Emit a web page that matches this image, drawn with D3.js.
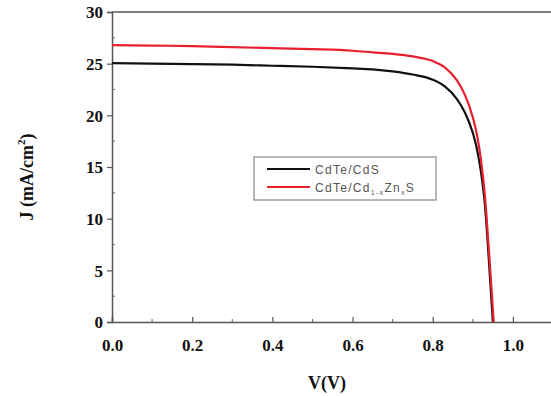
<!DOCTYPE html>
<html>
<head>
<meta charset="utf-8">
<script src="https://cdn.jsdelivr.net/npm/d3@7"></script>
<style>
    body { margin: 0; background: #fff; }
    svg { display: block; }
</style>
</head>
<body>
<div id="chart"></div>
<script>

// Data

const voltage = [0, 0.1, 0.2, 0.3, 0.4, 0.5, 0.6, 0.65, 0.7, 0.75, 0.8, 0.83, 0.86, 0.88, 0.9, 0.91, 0.92, 0.93, 0.94, 0.945, 0.95];
const jCdS = [25.05, 25.0, 24.95, 24.9, 24.8, 24.7, 24.55, 24.45, 24.25, 23.95, 23.45, 22.8, 21.6, 20.3, 18.3, 16.8, 14.6, 11.4, 6.0, 3.0, 0];

const voltageZn = [0, 0.1, 0.2, 0.3, 0.4, 0.5, 0.6, 0.65, 0.7, 0.75, 0.8, 0.83, 0.86, 0.88, 0.9, 0.91, 0.92, 0.93, 0.94, 0.947, 0.952];
const jZnS = [26.8, 26.75, 26.7, 26.6, 26.5, 26.4, 26.25, 26.1, 25.95, 25.7, 25.25, 24.65, 23.4, 22.0, 19.8, 18.2, 15.8, 12.3, 7.0, 3.0, 0];

const xTicks = [0, 0.2, 0.4, 0.6, 0.8, 1.0];
const yTicks = [0, 5, 10, 15, 20, 25, 30];

// Configure

const width = 551, height = 396;
const margin = { top: 12, left: 112, bottom: 74 };
const design = {
    font: "'Liberation Serif', 'Times New Roman', serif",
    black: "#111111",
    red: "#e8202e",
};

const svg = d3.select("#chart").append("svg")
    .attr("width", width)
    .attr("height", height);

// Scales

const xScale = d3.scaleLinear()
    .domain([0, 1.1])
    .range([margin.left, margin.left + 441]);

const yScale = d3.scaleLinear()
    .domain([0, 30])
    .range([height - margin.bottom, margin.top]);

// Frame

svg.append("line")
    .attr("x1", margin.left).attr("x2", width)
    .attr("y1", yScale(30)).attr("y2", yScale(30))
    .attr("stroke", "#555").attr("stroke-width", 1.5);

// Axes

const xAxis = d3.axisBottom(xScale)
    .tickValues(xTicks)
    .tickSize(-5)
    .tickFormat(d3.format(".1f"));

const gx = svg.append("g")
    .attr("transform", "translate(0," + yScale(0) + ")")
    .call(xAxis);

const yAxis = d3.axisLeft(yScale)
    .tickValues(yTicks)
    .tickSize(5)
    .tickFormat(d3.format("d"));

const gy = svg.append("g")
    .attr("transform", "translate(" + margin.left + ",0)")
    .call(yAxis);

[gx, gy].forEach(g => {
    g.select(".domain").attr("stroke", "#555").attr("stroke-width", 1.5);
    g.selectAll(".tick line").attr("stroke", "#555").attr("stroke-width", 1.2);
    g.selectAll(".tick text")
        .attr("font-family", design.font)
        .attr("font-size", 17)
        .attr("font-weight", "bold")
        .attr("fill", "#111");
});
gx.selectAll(".tick text").attr("y", 17).attr("dy", "0.71em");
gy.selectAll(".tick text").attr("x", -9).attr("dy", "0.35em");

// Minor ticks

const xMinor = d3.range(0.1, 1.1, 0.2);
svg.append("g").selectAll("line").data(xMinor).join("line")
    .attr("x1", d => xScale(d)).attr("x2", d => xScale(d))
    .attr("y1", yScale(0)).attr("y2", yScale(0) - 3)
    .attr("stroke", "#666");

const yMinor = d3.range(2.5, 30, 5);
svg.append("g").selectAll("line").data(yMinor).join("line")
    .attr("x1", margin.left).attr("x2", margin.left + 3)
    .attr("y1", d => yScale(d)).attr("y2", d => yScale(d))
    .attr("stroke", "#666");

// Curves

const line = d3.line()
    .curve(d3.curveMonotoneX)
    .x(d => xScale(d[0]))
    .y(d => yScale(d[1]));

svg.append("path")
    .attr("fill", "none")
    .attr("stroke", design.black)
    .attr("stroke-width", 2.2)
    .attr("d", line(d3.zip(voltage, jCdS)));

svg.append("path")
    .attr("fill", "none")
    .attr("stroke", design.red)
    .attr("stroke-width", 2.2)
    .attr("d", line(d3.zip(voltageZn, jZnS)));

// Axis titles

svg.append("text")
    .attr("x", 327).attr("y", 389)
    .attr("text-anchor", "middle")
    .attr("font-family", design.font)
    .attr("font-size", 18)
    .attr("font-weight", "bold")
    .attr("fill", "#111")
    .text("V(V)");

const yTitle = svg.append("text")
    .attr("transform", "translate(33,177) rotate(-90)")
    .attr("text-anchor", "middle")
    .attr("font-family", design.font)
    .attr("font-size", 18)
    .attr("font-weight", "bold")
    .attr("fill", "#111");
yTitle.append("tspan").text("J (mA/cm");
yTitle.append("tspan").attr("font-size", 11).attr("dy", -8).text("2");
yTitle.append("tspan").attr("dy", 8).text(")");

// Legend

const legend = svg.append("g");

legend.append("rect")
    .attr("x", 254).attr("y", 157)
    .attr("width", 182).attr("height", 43)
    .attr("fill", "#fff")
    .attr("stroke", "#888")
    .attr("stroke-width", 1.2);

const entries = [
    { color: design.black, y: 169 },
    { color: design.red, y: 187 },
];

legend.selectAll("line").data(entries).join("line")
    .attr("x1", 267).attr("x2", 310)
    .attr("y1", d => d.y).attr("y2", d => d.y)
    .attr("stroke", d => d.color)
    .attr("stroke-width", 2);

const labelFont = "'Liberation Sans', Arial, sans-serif";

legend.append("text")
    .attr("x", 315).attr("y", 173.5)
    .attr("font-family", labelFont)
    .attr("font-size", 12)
    .attr("letter-spacing", 1.3)
    .attr("fill", "#555")
    .text("CdTe/CdS");

const red = legend.append("text")
    .attr("x", 315).attr("y", 191.5)
    .attr("font-family", labelFont)
    .attr("font-size", 12)
    .attr("letter-spacing", 1.3)
    .attr("fill", "#555");
red.append("tspan").text("CdTe/Cd");
red.append("tspan").attr("font-size", 7).attr("dy", 3).text("1-x");
red.append("tspan").attr("dy", -3).text("Zn");
red.append("tspan").attr("font-size", 7).attr("dy", 3).text("x");
red.append("tspan").attr("dy", -3).text("S");

</script>
</body>
</html>
